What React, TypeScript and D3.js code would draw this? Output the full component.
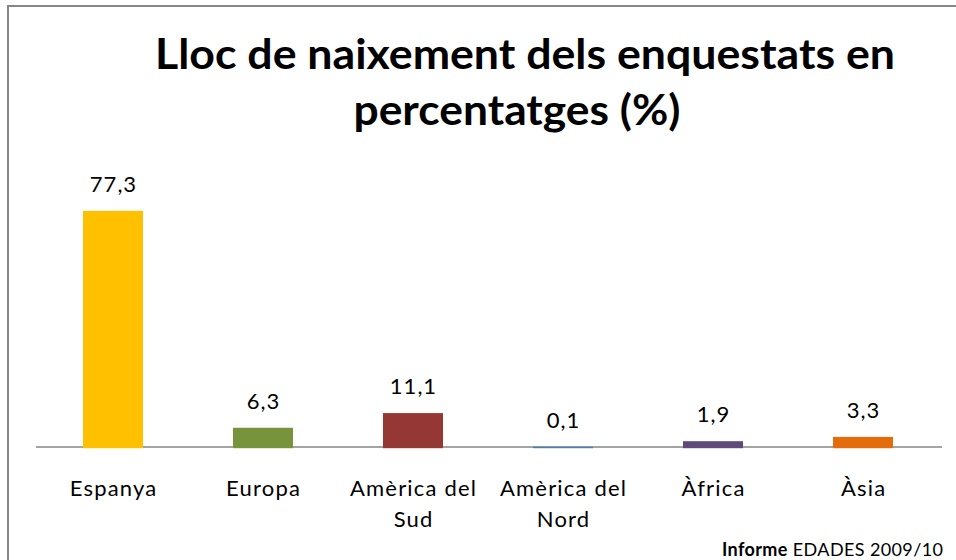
import React from "react";
import * as d3 from "d3";

const categories: string[][] = [
  ["Espanya"],
  ["Europa"],
  ["Amèrica del", "Sud"],
  ["Amèrica del", "Nord"],
  ["Àfrica"],
  ["Àsia"],
];
const values: number[] = [77.3, 6.3, 11.1, 0.1, 1.9, 3.3];
const valueLabels: string[] = ["77,3", "6,3", "11,1", "0,1", "1,9", "3,3"];
const colors: string[] = ["#FFC000", "#77933C", "#953735", "#4A7EBB", "#604A7B", "#E46C0A"];
const titleLines: string[] = ["Lloc de naixement dels enquestats en", "percentatges (%)"];
const footerBold = "Informe";
const footerRest = "EDADES 2009/10";

const W = 956;
const H = 560;
const FONT = "Lato, 'Open Sans', sans-serif";

const titleCenters = [525, 517];
const titleWidths = [740, 327];

export default function App() {
  const x = d3
    .scaleBand<number>()
    .domain(d3.range(values.length))
    .range([38, 938])
    .paddingInner(0.6)
    .paddingOuter(0.3);
  const y = d3.scaleLinear().domain([0, 80]).range([447, 447 - 244.4]);

  return (
    <svg
      width={W}
      height={H}
      style={{ position: "absolute", left: 0, top: 0, background: "#fff" }}
    >
      <rect x={0} y={0} width={W} height={H} fill="#fff" />
      <rect x={8} y={6} width={W + 10} height={H + 10} fill="none" stroke="#868686" strokeWidth={2} />
      {titleLines.map((t, i) => (
        <text
          key={i}
          x={titleCenters[i]}
          y={69 + i * 56}
          textAnchor="middle"
          fontFamily={FONT}
          fontWeight={700}
          fontSize={42}
          textLength={titleWidths[i]}
          lengthAdjust="spacingAndGlyphs"
          fill="#000"
        >
          {t}
        </text>
      ))}
      <line x1={36} x2={942} y1={447} y2={447} stroke="#868686" strokeWidth={1.5} />
      {values.map((v, i) => {
        const top = y(v);
        const cx = (x(i) as number) + x.bandwidth() / 2;
        return (
          <g key={i}>
            <rect x={x(i)} y={top} width={x.bandwidth()} height={y(0) - top + 1.2} fill={colors[i]} />
            <text
              x={cx + 0.5}
              y={top - 19}
              textAnchor="middle"
              fontFamily={FONT}
              fontSize={22}
              letterSpacing={1}
              fill="#000"
            >
              {valueLabels[i]}
            </text>
            {categories[i].map((line, j) => (
              <text
                key={j}
                x={cx + 0.6}
                y={496 + j * 31}
                textAnchor="middle"
                fontFamily={FONT}
                fontSize={22}
                letterSpacing={1.2}
                fill="#000"
              >
                {line}
              </text>
            ))}
          </g>
        );
      })}
      <text x={722} y={556} fontFamily={FONT} fontSize={18} fill="#000" textLength={221} lengthAdjust="spacing">
        <tspan fontWeight={700}>{footerBold}</tspan>
        <tspan> {footerRest}</tspan>
      </text>
    </svg>
  );
}
